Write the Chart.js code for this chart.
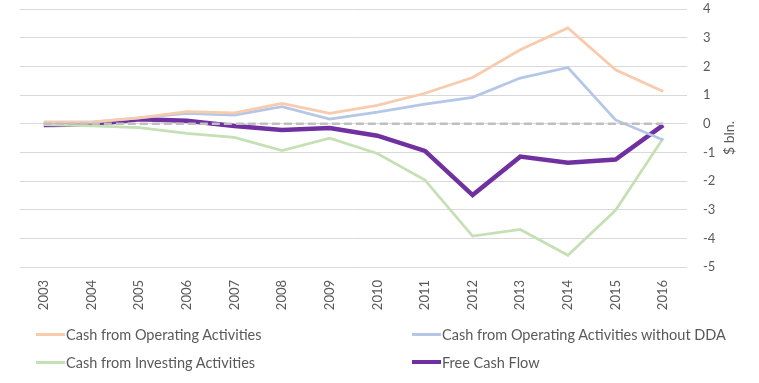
<!DOCTYPE html>
<html lang="en">
<head>
  <meta charset="UTF-8">
  <title>Cash Flow</title>
  <script src="https://cdn.jsdelivr.net/npm/chart.js"></script>
  <style>
    body { margin: 0; background: #fff; }
    #wrap { position: relative; width: 759px; height: 383px; }
    #legend { position: absolute; left: 0; top: 0; font-family: Lato, sans-serif; font-size: 14.5px; color: #595959; }
    .item { position: absolute; display: flex; align-items: center; white-space: nowrap; height: 18px; }
    .item span.swatch { display: inline-block; width: 29px; margin-right: 1px; }
  </style>
</head>
<body>
<div id="wrap">
  <canvas id="myChart" width="759" height="383"></canvas>
  <div id="legend"></div>
</div>
<script>
  const years = ['2003', '2004', '2005', '2006', '2007', '2008', '2009', '2010', '2011', '2012', '2013', '2014', '2015', '2016'];
  const operating = [0.05, 0.05, 0.2, 0.42, 0.38, 0.71, 0.36, 0.64, 1.06, 1.61, 2.58, 3.34, 1.88, 1.12];
  const operatingNoDda = [0.05, 0.05, 0.2, 0.36, 0.3, 0.59, 0.16, 0.4, 0.68, 0.92, 1.59, 1.96, 0.13, -0.57];
  const investing = [-0.03, -0.08, -0.14, -0.34, -0.48, -0.94, -0.51, -1.04, -1.97, -3.92, -3.69, -4.59, -3.02, -0.51];
  const freeCashFlow = [-0.05, -0.03, 0.15, 0.1, -0.08, -0.22, -0.15, -0.42, -0.95, -2.49, -1.15, -1.36, -1.25, -0.05];
  const zeroLine = years.map(() => 0);

  const series = [
    { label: 'Cash from Operating Activities', data: operating, color: '#F8CBAD', width: 2.75 },
    { label: 'Cash from Operating Activities without DDA', data: operatingNoDda, color: '#B4C7E7', width: 2.75 },
    { label: 'Cash from Investing Activities', data: investing, color: '#C5E0B4', width: 2.75 },
    { label: 'Free Cash Flow', data: freeCashFlow, color: '#7030A0', width: 4.5 }
  ];

  // legend in two columns, like the original
  const legendPos = [[36, 334], [412, 334], [36, 362], [412, 362]];
  const legend = document.getElementById('legend');
  series.forEach((s, i) => {
    const div = document.createElement('div');
    div.className = 'item';
    div.style.left = legendPos[i][0] + 'px';
    div.style.top = (legendPos[i][1] - 9) + 'px';
    const h = s.width > 3 ? 4 : 3;
    div.innerHTML = `<span class="swatch" style="background:${s.color};height:${h}px"></span>${s.label}`;
    legend.appendChild(div);
  });

  const axisTitle = {
    id: 'axisTitle',
    afterDraw(chart) {
      const ctx = chart.ctx;
      const area = chart.chartArea;
      ctx.save();
      ctx.translate(729, (area.top + area.bottom) / 2);
      ctx.rotate(-Math.PI / 2);
      ctx.fillStyle = '#595959';
      ctx.font = '14px Lato';
      ctx.textAlign = 'center';
      ctx.textBaseline = 'middle';
      ctx.fillText('$ bln.', 0, 0);
      ctx.restore();
    }
  };

  const datasets = series.map(s => ({
    label: s.label,
    data: s.data,
    borderColor: s.color,
    backgroundColor: s.color,
    borderWidth: s.width,
    pointRadius: 0,
    tension: 0,
    fill: false,
    order: 1
  }));
  // dashed zero line drawn on top
  datasets.push({
    label: 'zero',
    data: zeroLine,
    borderColor: '#BFBFBF',
    borderWidth: 2.5,
    borderDash: [8, 4],
    pointRadius: 0,
    fill: false,
    order: 0
  });

  const ctx = document.getElementById('myChart').getContext('2d');
  new Chart(ctx, {
    type: 'line',
    data: { labels: years, datasets: datasets },
    plugins: [axisTitle],
    options: {
      responsive: false,
      animation: false,
      layout: { padding: { left: 20, top: 9, right: 0, bottom: 0 } },
      plugins: { legend: { display: false }, tooltip: { enabled: false } },
      scales: {
        x: {
          offset: true,
          grid: { display: false },
          border: { display: false },
          ticks: { color: '#595959', font: { family: 'Lato', size: 13 }, minRotation: 90, maxRotation: 90, padding: 5 },
          afterFit(scale) {
            scale.height = 116;
            scale.paddingTop = 0; scale.paddingBottom = 0;
          }
        },
        y: {
          position: 'right',
          min: -5,
          max: 4,
          grid: { color: '#D9D9D9', lineWidth: 1, drawTicks: false },
          border: { display: false },
          ticks: { stepSize: 1, color: '#595959', font: { family: 'Lato', size: 13 }, padding: 16 },
          afterFit(scale) {
            scale.width = 72;
            scale.paddingTop = 0; scale.paddingBottom = 0;
          }
        }
      }
    }
  });
</script>
</body>
</html>
